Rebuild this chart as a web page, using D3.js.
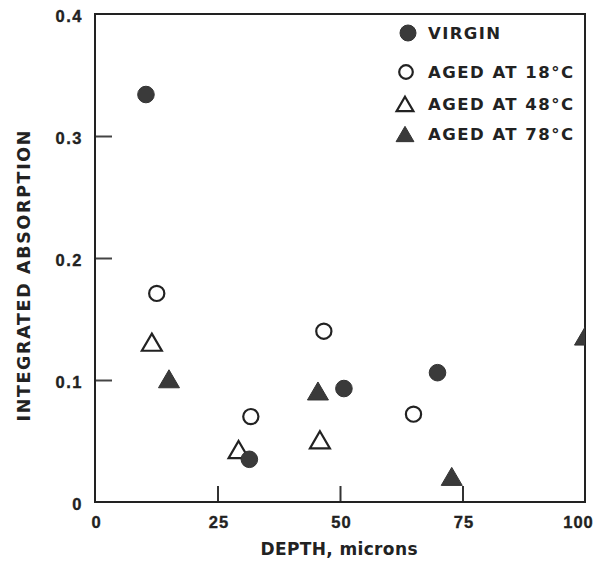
<!DOCTYPE html>
<html>
<head>
<meta charset="utf-8">
<script src="https://cdn.jsdelivr.net/npm/d3@7"></script>
<style>
  html, body { margin: 0; padding: 0; background: #fff; }
  svg { display: block; }
  text { font-family: "Liberation Sans", Arial, Helvetica, sans-serif; font-weight: bold; fill: #222; }
  .wide { font-family: "DejaVu Sans", "Liberation Sans", sans-serif; }
</style>
</head>
<body>
<script>
// Depth profiles of integrated absorption
const virginDepth = [10.4, 31.5, 50.8, 69.9];
const virginAbs   = [0.334, 0.035, 0.093, 0.106];

const aged18Depth = [12.6, 31.8, 46.7, 65.0];
const aged18Abs   = [0.171, 0.070, 0.140, 0.072];

const aged48Depth = [11.6, 29.3, 45.9];
const aged48Abs   = [0.131, 0.043, 0.051];

const aged78Depth = [15.1, 45.5, 72.8, 100];
const aged78Abs   = [0.101, 0.091, 0.021, 0.136];

const xTicks = [0, 25, 50, 75, 100];
const yTicks = [0, 0.1, 0.2, 0.3, 0.4];
const yTickLabels = ["0", "0.1", "0.2", "0.3", "0.4"];

const legendLabels = ["VIRGIN", "AGED AT 18\u00B0C", "AGED AT 48\u00B0C", "AGED AT 78\u00B0C"];

const W = 598, H = 561;
const margin = { left: 95, right: 13, top: 14, bottom: 59 };
const ink = "#222";
const markFill = "#3a3a3a";

const svg = d3.select("body").append("svg").attr("width", W).attr("height", H);

const x = d3.scaleLinear().domain([0, 100]).range([margin.left, W - margin.right]);
const y = d3.scaleLinear().domain([0, 0.4]).range([H - margin.bottom, margin.top]);

// clip region for the plotting frame
svg.append("clipPath").attr("id", "plotClip")
  .append("rect")
  .attr("x", x(0)).attr("y", y(0.4))
  .attr("width", x(100) - x(0)).attr("height", y(0) - y(0.4));

// Axes with inward ticks
const yAxis = d3.axisLeft(y).tickValues(yTicks)
  .tickFormat((d, i) => yTickLabels[i])
  .tickSizeInner(-17).tickSizeOuter(0).tickPadding(12);
const gy = svg.append("g").attr("transform", `translate(${x(0)},0)`).call(yAxis);
gy.select(".domain").remove();
gy.selectAll(".tick line").attr("stroke", "#444").attr("stroke-width", 2)
  .filter(d => d === 0 || d === 0.4).remove();
gy.selectAll(".tick text")
  .attr("dy", "0.48em")
  .style("font-size", "16.5px").style("letter-spacing", "1.5px")
  .attr("fill", ink).attr("stroke", ink).attr("stroke-width", 0.35);

const xAxis = d3.axisBottom(x).tickValues(xTicks)
  .tickSizeInner(-16).tickSizeOuter(0).tickPadding(14);
const gx = svg.append("g").attr("transform", `translate(0,${y(0)})`).call(xAxis);
gx.select(".domain").remove();
gx.selectAll(".tick line").attr("stroke", "#333").attr("stroke-width", 2)
  .filter(d => d === 0 || d === 100).remove();
gx.selectAll(".tick text")
  .style("font-size", "16.5px").style("letter-spacing", "1px")
  .attr("fill", ink).attr("stroke", ink).attr("stroke-width", 0.35)
  .attr("dx", d => d === 100 ? -7 : 1);

// Frame
svg.append("rect")
  .attr("x", x(0)).attr("y", y(0.4))
  .attr("width", x(100) - x(0)).attr("height", y(0) - y(0.4))
  .attr("fill", "none").attr("stroke", ink).attr("stroke-width", 2);

// Axis titles
svg.append("text").attr("class", "wide")
  .attr("x", (x(0) + x(100)) / 2 - 1).attr("y", 555)
  .attr("text-anchor", "middle")
  .attr("textLength", 157).attr("lengthAdjust", "spacing")
  .style("font-size", "17px")
  .text("DEPTH, microns");

svg.append("text").attr("class", "wide")
  .attr("transform", "translate(30,276) rotate(-90)")
  .attr("text-anchor", "middle")
  .attr("textLength", 291).attr("lengthAdjust", "spacing")
  .style("font-size", "17.5px")
  .text("INTEGRATED ABSORPTION");

// Marker shapes
const triPath = (s) => `M0,${-9 * s}L${10.5 * s},${9 * s}L${-10.5 * s},${9 * s}Z`;

const marks = svg.append("g").attr("clip-path", "url(#plotClip)");

function drawCircles(xs, ys, filled) {
  marks.selectAll(null).data(xs.map((d, i) => [d, ys[i]])).enter()
    .append("circle")
    .attr("cx", d => x(d[0])).attr("cy", d => y(d[1]))
    .attr("r", filled ? 8.3 : 7.6)
    .attr("fill", filled ? markFill : "#fff")
    .attr("stroke", filled ? "#333" : ink)
    .attr("stroke-width", filled ? 1 : 2.2);
}
function drawTriangles(xs, ys, filled) {
  marks.selectAll(null).data(xs.map((d, i) => [d, ys[i]])).enter()
    .append("path")
    .attr("d", triPath(filled ? 1 : 0.95))
    .attr("transform", d => `translate(${x(d[0])},${y(d[1])})`)
    .attr("fill", filled ? markFill : "none")
    .attr("stroke", filled ? "#333" : ink)
    .attr("stroke-width", filled ? 1 : 2.2)
    .attr("stroke-linejoin", "miter");
}

drawTriangles(aged48Depth, aged48Abs, false);
drawCircles(aged18Depth, aged18Abs, false);
drawCircles(virginDepth, virginAbs, true);
drawTriangles(aged78Depth, aged78Abs, true);

// Legend
const legendRows = [33, 72, 104, 134];
const legendWidths = [72, 145, 145, 145];
const lg = svg.append("g");
legendLabels.forEach((lab, i) => {
  const cy = legendRows[i];
  const cx = 407;
  if (i === 0) {
    lg.append("circle").attr("cx", cx + 1).attr("cy", cy).attr("r", 8)
      .attr("fill", markFill).attr("stroke", "#333");
  } else if (i === 1) {
    lg.append("circle").attr("cx", cx - 1).attr("cy", cy).attr("r", 6.8)
      .attr("fill", "none").attr("stroke", ink).attr("stroke-width", 2.2);
  } else if (i === 2) {
    lg.append("path").attr("d", triPath(0.8))
      .attr("transform", `translate(${cx - 2},${cy})`)
      .attr("fill", "none").attr("stroke", ink).attr("stroke-width", 2.2);
  } else {
    lg.append("path").attr("d", triPath(0.85))
      .attr("transform", `translate(${cx - 2},${cy})`)
      .attr("fill", markFill).attr("stroke", "#333");
  }
  lg.append("text").attr("class", "wide")
    .attr("x", 428).attr("y", cy + 6)
    .attr("textLength", legendWidths[i]).attr("lengthAdjust", "spacing")
    .style("font-size", "16.5px")
    .text(lab);
});
</script>
</body>
</html>
